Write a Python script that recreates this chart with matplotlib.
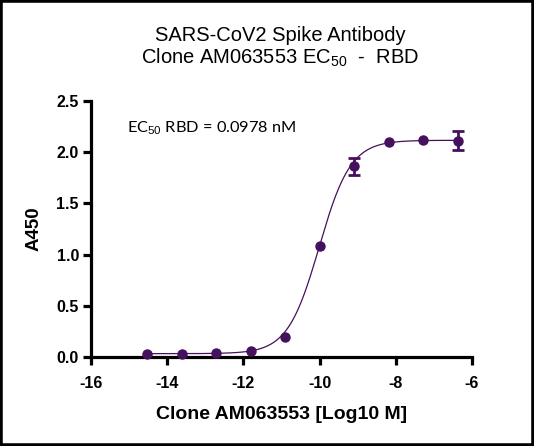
import numpy as np
import matplotlib
matplotlib.use("Agg")
import matplotlib.pyplot as plt
from matplotlib.patches import Rectangle

# Data (log10 M concentration, A450 absorbance)
log_conc = [-14.52, -13.62, -12.71, -11.81, -10.90, -10.00, -9.09, -8.19, -7.28, -6.38]
a450 = [0.032, 0.035, 0.038, 0.060, 0.200, 1.080, 1.860, 2.100, 2.115, 2.110]
a450_err = [0.0, 0.0, 0.0, 0.0, 0.0, 0.0, 0.085, 0.0, 0.0, 0.093]

# 4PL fit parameters
fit_bottom = 0.035
fit_top = 2.115
fit_logec50 = -10.01
fit_hill = 1.05

x_ticks = [-16, -14, -12, -10, -8, -6]
y_ticks = [0.0, 0.5, 1.0, 1.5, 2.0, 2.5]

color = "#45105c"

plt.rcParams["mathtext.fontset"] = "custom"
plt.rcParams["mathtext.rm"] = "Liberation Sans"
plt.rcParams["mathtext.it"] = "Liberation Sans:italic"
plt.rcParams["mathtext.bf"] = "Liberation Sans:bold"

fig = plt.figure(figsize=(5.34, 4.46), dpi=100)
ax = fig.add_axes([0.170, 0.199, 0.714, 0.575])

xf = np.linspace(min(log_conc), max(log_conc), 400)
yf = fit_bottom + (fit_top - fit_bottom) / (1 + 10 ** ((fit_logec50 - xf) * fit_hill))
ax.plot(xf, yf, color=color, lw=0.9)

ax.errorbar(log_conc, a450, yerr=[e if e > 0 else np.nan for e in a450_err],
            fmt="o", color=color, ms=6.5, ecolor=color, elinewidth=2.0,
            capsize=4, capthick=2.0, clip_on=False, zorder=3)

ax.set_xlim(-16, -6)
ax.set_ylim(0, 2.5)
ax.set_xticks(x_ticks)
ax.set_xticklabels([str(t) for t in x_ticks])
ax.set_yticks(y_ticks)
ax.set_yticklabels([f"{t:.1f}" for t in y_ticks])

for s in ["top", "right"]:
    ax.spines[s].set_visible(False)
for s in ["left", "bottom"]:
    ax.spines[s].set_linewidth(2.3)
    ax.spines[s].set_capstyle("projecting")
ax.tick_params(axis="both", direction="out", length=5.5, width=2.3)
ax.tick_params(axis="x", pad=8)
ax.tick_params(axis="y", pad=3)

for lab in ax.get_xticklabels() + ax.get_yticklabels():
    lab.set_fontfamily("Liberation Sans")
    lab.set_fontweight("bold")
    lab.set_fontsize(11.5)

ax.set_xlabel("Clone AM063553 [Log10 M]", family="Liberation Sans", weight="bold",
              size=14, labelpad=11)
ax.set_ylabel("A450", family="Liberation Sans", weight="bold", size=13.5, labelpad=10)

fig.text(0.525, 0.921, "SARS-CoV2 Spike Antibody", ha="center", va="center",
         family="Liberation Sans", size=14.5)
fig.text(0.525, 0.870, r"Clone AM063553 EC$_{50}$  -  RBD", ha="center", va="center",
         family="Liberation Sans", size=14.5)
fig.text(0.238, 0.712, r"EC$_{50}$ RBD = 0.0978 nM", ha="left", va="center",
         family="Lato", size=11.8)

fig.patches.append(Rectangle((0, 0), 1, 1, transform=fig.transFigure, fill=False,
                             edgecolor="black", lw=4, zorder=10))

fig.savefig("out.png", dpi=100)
